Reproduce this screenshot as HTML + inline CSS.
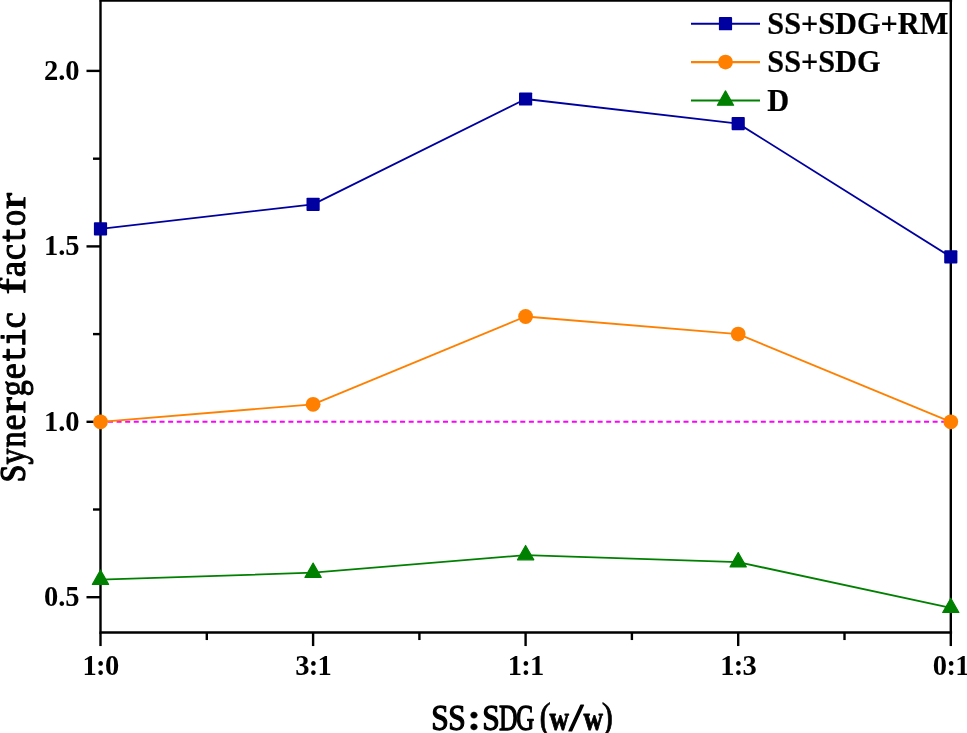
<!DOCTYPE html><html lang="en"><head><meta charset="utf-8"><title>Synergetic factor vs SS:SDG ratio</title><style>html,body{margin:0;padding:0;background:#fff;}svg{display:block;will-change:transform}text{font-family:"Liberation Serif",serif;font-weight:bold;fill:#000}.m{font-family:"Liberation Mono",monospace;}</style></head><body>
<svg width="967" height="733" viewBox="0 0 967 733">
<rect width="967" height="733" fill="#fff"/>
<line x1="100.5" y1="421.8" x2="950.8" y2="421.8" stroke="#FF00FF" stroke-width="2.0" stroke-dasharray="5 3.59" stroke-dashoffset="1.1"/>
<g stroke="#000" stroke-width="2.4" fill="none" stroke-linecap="butt">
<path d="M100.5 633.8499999999999 V0 M950.8 633.8499999999999 V0 M99.2 0.45 H952.0999999999999 M99.2 632.55 H952.0999999999999"/>
<path d="M86.5 597.2 H100.5"/>
<path d="M86.5 421.8 H100.5"/>
<path d="M86.5 246.4 H100.5"/>
<path d="M86.5 70.9 H100.5"/>
<path d="M93.0 509.5 H100.5"/>
<path d="M93.0 334.1 H100.5"/>
<path d="M93.0 158.7 H100.5"/>
<path d="M100.5 632.55 V646.05"/>
<path d="M313.1 632.55 V646.05"/>
<path d="M525.6 632.55 V646.05"/>
<path d="M738.2 632.55 V646.05"/>
<path d="M950.8 632.55 V646.05"/>
<path d="M206.8 632.55 V640.05"/>
<path d="M419.4 632.55 V640.05"/>
<path d="M631.9 632.55 V640.05"/>
<path d="M844.5 632.55 V640.05"/>
</g>
<polyline points="100.5,228.8 313.1,204.3 525.6,99.0 738.2,123.6 950.8,256.9" fill="none" stroke="#0000A0" stroke-width="1.85" stroke-linejoin="round"/>
<polyline points="100.5,421.8 313.1,404.3 525.6,316.5 738.2,334.1 950.8,421.8" fill="none" stroke="#FF8000" stroke-width="1.85" stroke-linejoin="round"/>
<polyline points="100.5,579.7 313.1,572.7 525.6,555.1 738.2,562.2 950.8,607.8" fill="none" stroke="#008000" stroke-width="1.85" stroke-linejoin="round"/>
<rect x="93.9" y="222.2" width="13.2" height="13.2" rx="0.9" fill="#0000A0"/>
<rect x="306.5" y="197.7" width="13.2" height="13.2" rx="0.9" fill="#0000A0"/>
<rect x="519.0" y="92.4" width="13.2" height="13.2" rx="0.9" fill="#0000A0"/>
<rect x="731.6" y="117.0" width="13.2" height="13.2" rx="0.9" fill="#0000A0"/>
<rect x="944.2" y="250.3" width="13.2" height="13.2" rx="0.9" fill="#0000A0"/>
<circle cx="100.5" cy="421.8" r="7.4" fill="#FF8000"/>
<circle cx="313.1" cy="404.3" r="7.4" fill="#FF8000"/>
<circle cx="525.6" cy="316.5" r="7.4" fill="#FF8000"/>
<circle cx="738.2" cy="334.1" r="7.4" fill="#FF8000"/>
<circle cx="950.8" cy="421.8" r="7.4" fill="#FF8000"/>
<path d="M100.5 570.1 L108.6 584.4 H92.4 Z" fill="#008000" stroke="#008000" stroke-width="1.2" stroke-linejoin="round"/>
<path d="M313.1 563.1 L321.2 577.4 H305.0 Z" fill="#008000" stroke="#008000" stroke-width="1.2" stroke-linejoin="round"/>
<path d="M525.6 545.5 L533.8 559.8 H517.5 Z" fill="#008000" stroke="#008000" stroke-width="1.2" stroke-linejoin="round"/>
<path d="M738.2 552.6 L746.3 566.9 H730.1 Z" fill="#008000" stroke="#008000" stroke-width="1.2" stroke-linejoin="round"/>
<path d="M950.8 598.2 L958.9 612.5 H942.7 Z" fill="#008000" stroke="#008000" stroke-width="1.2" stroke-linejoin="round"/>
<text x="79.5" y="606.2" font-size="28.5" text-anchor="end">0.5</text>
<text x="79.5" y="430.8" font-size="28.5" text-anchor="end">1.0</text>
<text x="79.5" y="255.4" font-size="28.5" text-anchor="end">1.5</text>
<text x="79.5" y="79.9" font-size="28.5" text-anchor="end">2.0</text>
<text x="100.5" y="674.5" font-size="28.5" text-anchor="middle" letter-spacing="-0.7">1:0</text>
<text x="313.1" y="674.5" font-size="28.5" text-anchor="middle" letter-spacing="-0.7">3:1</text>
<text x="525.6" y="674.5" font-size="28.5" text-anchor="middle" letter-spacing="-0.7">1:1</text>
<text x="738.2" y="674.5" font-size="28.5" text-anchor="middle" letter-spacing="-0.7">1:3</text>
<text x="950.8" y="674.5" font-size="28.5" text-anchor="middle" letter-spacing="-0.7">0:1</text>
<line x1="691" y1="23.7" x2="760" y2="23.7" stroke="#0000A0" stroke-width="2.1"/>
<rect x="718.9" y="17.1" width="13.2" height="13.2" rx="0.9" fill="#0000A0"/>
<text transform="translate(767.3 33.9) scale(1 1.01)" font-size="30.3" stroke="#000" stroke-width="0.2">SS+SDG+RM</text>
<line x1="691" y1="62.1" x2="760" y2="62.1" stroke="#FF8000" stroke-width="2.1"/>
<circle cx="725.5" cy="62.1" r="7.4" fill="#FF8000"/>
<text transform="translate(767.3 72.3) scale(1 1.01)" font-size="30.3" stroke="#000" stroke-width="0.2">SS+SDG</text>
<line x1="691" y1="100.5" x2="760" y2="100.5" stroke="#008000" stroke-width="2.1"/>
<path d="M725.5 90.9 L733.6 105.2 H717.4 Z" fill="#008000" stroke="#008000" stroke-width="1.2" stroke-linejoin="round"/>
<text transform="translate(767.3 110.7) scale(1 1.01)" font-size="30.3" stroke="#000" stroke-width="0.2">D</text>
<g transform="translate(25 482) rotate(-90)"><text transform="translate(8.52 0) scale(0.887 1)" font-size="35.5" text-anchor="middle" style="font-weight:normal" stroke="#000" stroke-width="1.3" stroke-linejoin="round">S</text><text transform="translate(25.55 0) scale(0.853 1)" font-size="37.5" text-anchor="middle" style="font-weight:normal" stroke="#000" stroke-width="1.1" stroke-linejoin="round">y</text><text transform="translate(42.58 0) scale(0.853 1)" font-size="37.5" text-anchor="middle" style="font-weight:normal" stroke="#000" stroke-width="1.1" stroke-linejoin="round">n</text><text transform="translate(59.61 0) scale(0.961 1)" font-size="37.5" text-anchor="middle" style="font-weight:normal" stroke="#000" stroke-width="1.1" stroke-linejoin="round">e</text><text transform="translate(76.64 0) scale(1.281 1)" font-size="37.5" text-anchor="middle" style="font-weight:normal" stroke="#000" stroke-width="1.1" stroke-linejoin="round">r</text><text transform="translate(93.67 0) scale(0.853 1)" font-size="37.5" text-anchor="middle" style="font-weight:normal" stroke="#000" stroke-width="1.1" stroke-linejoin="round">g</text><text transform="translate(110.70 0) scale(0.961 1)" font-size="37.5" text-anchor="middle" style="font-weight:normal" stroke="#000" stroke-width="1.1" stroke-linejoin="round">e</text><text class="m" transform="translate(127.73 0) scale(0.900 1)" font-size="33" text-anchor="middle" style="font-weight:normal" stroke="#000" stroke-width="1.1" stroke-linejoin="round">t</text><text class="m" transform="translate(144.75 0) scale(0.900 1)" font-size="33" text-anchor="middle" style="font-weight:normal" stroke="#000" stroke-width="1.1" stroke-linejoin="round">i</text><text transform="translate(161.79 0) scale(0.961 1)" font-size="37.5" text-anchor="middle" style="font-weight:normal" stroke="#000" stroke-width="1.1" stroke-linejoin="round">c</text><text transform="translate(195.85 0) scale(1.281 1)" font-size="37.5" text-anchor="middle" style="font-weight:normal" stroke="#000" stroke-width="1.1" stroke-linejoin="round">f</text><text transform="translate(212.88 0) scale(0.961 1)" font-size="37.5" text-anchor="middle" style="font-weight:normal" stroke="#000" stroke-width="1.1" stroke-linejoin="round">a</text><text transform="translate(229.91 0) scale(0.961 1)" font-size="37.5" text-anchor="middle" style="font-weight:normal" stroke="#000" stroke-width="1.1" stroke-linejoin="round">c</text><text class="m" transform="translate(246.94 0) scale(0.900 1)" font-size="33" text-anchor="middle" style="font-weight:normal" stroke="#000" stroke-width="1.1" stroke-linejoin="round">t</text><text transform="translate(263.97 0) scale(0.853 1)" font-size="37.5" text-anchor="middle" style="font-weight:normal" stroke="#000" stroke-width="1.1" stroke-linejoin="round">o</text><text transform="translate(281.00 0) scale(1.281 1)" font-size="37.5" text-anchor="middle" style="font-weight:normal" stroke="#000" stroke-width="1.1" stroke-linejoin="round">r</text></g>
<g transform="translate(431.5 729.8)"><text transform="translate(8.52 0) scale(0.887 1)" font-size="35.5" text-anchor="middle" style="font-weight:normal" stroke="#000" stroke-width="1.3" stroke-linejoin="round">S</text><text transform="translate(25.55 0) scale(0.887 1)" font-size="35.5" text-anchor="middle" style="font-weight:normal" stroke="#000" stroke-width="1.3" stroke-linejoin="round">S</text><text transform="translate(42.58 0) scale(1.100 1)" font-size="37.5" text-anchor="middle" style="font-weight:bold" stroke="#000" stroke-width="0.3">:</text><text transform="translate(59.61 0) scale(0.887 1)" font-size="35.5" text-anchor="middle" style="font-weight:normal" stroke="#000" stroke-width="1.3" stroke-linejoin="round">S</text><text transform="translate(76.64 0) scale(0.722 1)" font-size="35.5" text-anchor="middle" style="font-weight:normal" stroke="#000" stroke-width="1.3" stroke-linejoin="round">D</text><text transform="translate(93.67 0) scale(0.702 1)" font-size="35.5" text-anchor="middle" style="font-weight:normal" stroke="#000" stroke-width="1.3" stroke-linejoin="round">G</text><text transform="translate(113.70 -1.0) scale(0.900 1)" font-size="37.5" text-anchor="middle" style="font-weight:normal" stroke="#000" stroke-width="0.7">(</text><text transform="translate(127.73 0) scale(0.794 1)" font-size="34" text-anchor="middle" style="font-weight:bold" stroke="#000" stroke-width="0.9" stroke-linejoin="round">w</text><text transform="translate(144.75 1.0) scale(1.300 1)" font-size="40" text-anchor="middle" style="font-weight:normal" stroke="#000" stroke-width="1.1" stroke-linejoin="round">/</text><text transform="translate(161.79 0) scale(0.794 1)" font-size="34" text-anchor="middle" style="font-weight:bold" stroke="#000" stroke-width="0.9" stroke-linejoin="round">w</text><text transform="translate(175.81 -1.0) scale(0.900 1)" font-size="37.5" text-anchor="middle" style="font-weight:normal" stroke="#000" stroke-width="0.7">)</text></g>
</svg></body></html>
